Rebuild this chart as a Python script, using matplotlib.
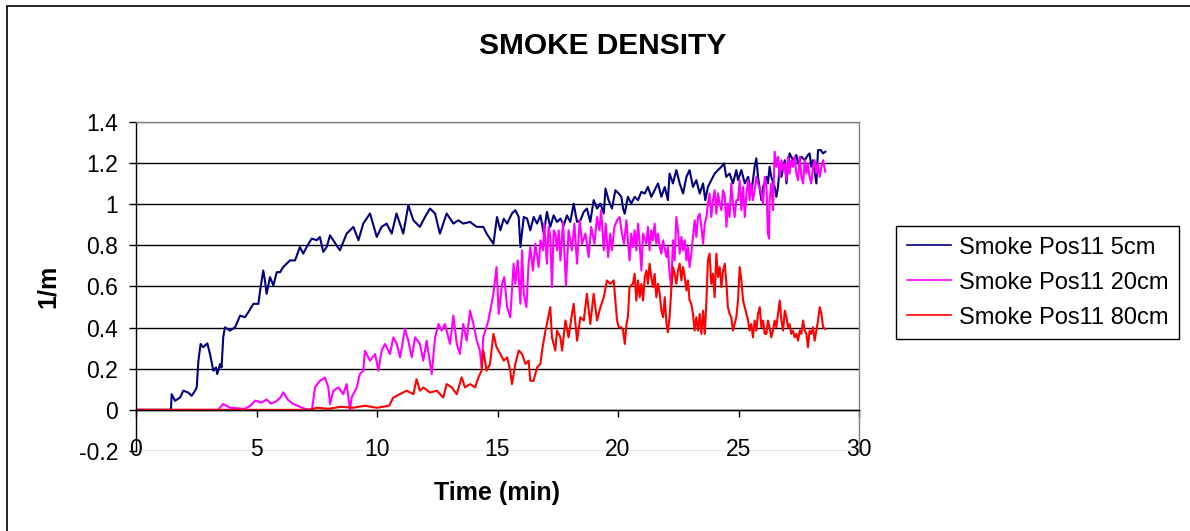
import numpy as np
import matplotlib
matplotlib.use('Agg')
import matplotlib.pyplot as plt
from matplotlib.patches import Rectangle

# ----------------------------- Data -----------------------------
T_5CM = [0.0, 1.45, 1.48, 1.62, 1.83, 1.96, 2.17, 2.31, 2.45, 2.52, 2.59, 2.68, 2.79, 2.96,
         3.07, 3.21, 3.32, 3.37, 3.49, 3.55, 3.62, 3.69, 3.90, 4.11, 4.32, 4.52, 4.66, 4.87,
         5.08, 5.15, 5.28, 5.35, 5.42, 5.56, 5.70, 5.84, 5.98, 6.11, 6.39, 6.60, 6.80, 6.94,
         7.08, 7.29, 7.50, 7.63, 7.77, 7.91, 8.05, 8.46, 8.74, 9.02, 9.23, 9.43, 9.71, 9.99,
         10.19, 10.40, 10.61, 10.81, 11.09, 11.30, 11.51, 11.78, 11.99, 12.20, 12.41, 12.61,
         12.89, 13.17, 13.38, 13.58, 13.86, 14.14, 14.41, 14.55, 14.83,
         14.98, 15.12, 15.26, 15.40, 15.60, 15.74, 15.88, 15.95, 16.09, 16.23, 16.36, 16.50,
         16.64, 16.78, 16.92, 17.05, 17.19, 17.33, 17.47, 17.61, 17.75, 17.88, 18.02, 18.16,
         18.30, 18.44, 18.58, 18.71, 18.85, 18.99, 19.13, 19.27, 19.41, 19.48, 19.61, 19.75,
         19.89, 20.03, 20.14, 20.21, 20.28, 20.41, 20.55, 20.69, 20.83, 20.97, 21.11, 21.24,
         21.38, 21.52, 21.66, 21.80, 21.94, 22.07, 22.14, 22.28, 22.42, 22.56, 22.70, 22.84,
         22.97, 23.11, 23.25, 23.39, 23.53, 23.62, 23.73, 23.87, 24.01, 24.15, 24.29, 24.40,
         24.49, 24.63, 24.77, 24.91, 24.98, 25.12, 25.26, 25.40, 25.53, 25.67, 25.74, 25.81,
         25.95, 26.02, 26.16, 26.22, 26.29, 26.36, 26.50, 26.57, 26.64, 26.71, 26.78, 26.92,
         26.99, 27.05, 27.12, 27.26, 27.40, 27.47, 27.61, 27.75, 27.88, 27.95, 28.02, 28.09,
         28.23, 28.30, 28.41, 28.51, 28.60]
V_5CM = [0.0, 0.0, 0.076, 0.044, 0.060, 0.093, 0.084, 0.068, 0.093, 0.109, 0.239, 0.320, 0.304,
         0.323, 0.271, 0.190, 0.206, 0.174, 0.223, 0.206, 0.353, 0.401, 0.385, 0.401, 0.458,
         0.450, 0.474, 0.515, 0.515, 0.580, 0.677, 0.629, 0.564, 0.645, 0.604, 0.669, 0.669,
         0.694, 0.726, 0.726, 0.791, 0.759, 0.791, 0.832, 0.824, 0.840, 0.767, 0.791, 0.848,
         0.775, 0.856, 0.889, 0.824, 0.905, 0.954, 0.840, 0.889, 0.905, 0.856, 0.954, 0.856,
         0.994, 0.921, 0.889, 0.937, 0.978, 0.954, 0.856, 0.954, 0.905, 0.921, 0.905, 0.913,
         0.889, 0.889, 0.856, 0.807,
         0.937, 0.872, 0.929, 0.905, 0.954, 0.970, 0.937, 0.791, 0.937, 0.929, 0.872, 0.937,
         0.905, 0.945, 0.856, 0.962, 0.889, 0.945, 0.913, 0.929, 0.897, 0.945, 0.913, 1.002,
         0.913, 0.921, 0.962, 0.978, 0.913, 1.019, 0.978, 1.002, 0.954, 1.075, 1.019, 0.978,
         1.067, 1.051, 1.035, 0.978, 0.953, 1.035, 1.002, 1.035, 1.019, 1.059, 1.051, 1.083,
         1.035, 1.067, 1.100, 1.035, 1.083, 1.019, 1.148, 1.100, 1.165, 1.100, 1.051, 1.132,
         1.165, 1.083, 1.116, 1.051, 1.100, 1.019, 1.083, 1.116, 1.148, 1.165, 1.181, 1.197,
         1.132, 1.148, 1.100, 1.165, 1.116, 1.165, 1.100, 1.132, 1.051, 1.181, 1.222, 1.132,
         1.019, 1.083, 1.132, 1.100, 1.181, 1.132, 1.083, 1.035, 1.083, 1.181, 1.132, 1.213,
         1.100, 1.181, 1.246, 1.213, 1.238, 1.197, 1.230, 1.213, 1.238, 1.246, 1.181, 1.213,
         1.100, 1.262, 1.262, 1.246, 1.254]

T_20CM = [0.0, 3.40, 3.62, 3.90, 4.50, 4.75, 4.95, 5.20, 5.42, 5.60, 5.80, 6.00, 6.11, 6.30,
          6.50, 6.70, 7.00, 7.30, 7.43, 7.63, 7.84, 7.98, 8.05, 8.19, 8.40, 8.60, 8.74, 8.88,
          8.95, 9.16, 9.29, 9.43, 9.50, 9.71, 9.92, 10.06, 10.19, 10.33, 10.54, 10.68, 10.82,
          10.96, 11.16, 11.30, 11.44, 11.58, 11.78, 11.92, 12.06, 12.27, 12.41, 12.55, 12.68,
          12.82, 13.03, 13.17, 13.31, 13.44, 13.58, 13.72, 13.86, 14.00, 14.14, 14.27, 14.34,
          14.41, 14.62, 14.83, 14.96,
          15.05, 15.19, 15.28, 15.40, 15.53, 15.67, 15.74, 15.84, 15.95, 16.02, 16.09, 16.20,
          16.29, 16.36, 16.47, 16.57, 16.71, 16.78, 16.89, 16.94, 17.05, 17.12, 17.19, 17.26,
          17.33, 17.40, 17.47, 17.54, 17.61, 17.72, 17.84, 17.95, 18.09, 18.19, 18.30, 18.41,
          18.51, 18.65, 18.78, 18.89, 19.02, 19.13, 19.23, 19.30, 19.41, 19.49, 19.59, 19.68,
          19.75, 19.85, 19.96, 20.07, 20.14, 20.25, 20.35, 20.41, 20.48, 20.55, 20.62, 20.69,
          20.76, 20.83, 20.90, 20.97, 21.04, 21.18, 21.24, 21.31, 21.38, 21.45, 21.52, 21.59,
          21.66, 21.73, 21.80, 21.87, 22.01, 22.07, 22.14, 22.21, 22.28, 22.35, 22.42, 22.49,
          22.56, 22.63, 22.70, 22.77, 22.84, 22.90, 22.97, 23.04, 23.11, 23.18, 23.25, 23.32,
          23.39, 23.46, 23.53, 23.60, 23.67, 23.73, 23.80, 23.87, 23.94, 24.01, 24.08, 24.15,
          24.22, 24.29, 24.36, 24.43, 24.50, 24.56, 24.63, 24.70, 24.77, 24.84, 24.91, 24.98,
          25.05, 25.12, 25.19, 25.26, 25.33, 25.40, 25.46, 25.53, 25.60, 25.67, 25.74, 25.81,
          25.95, 26.02, 26.09, 26.16, 26.22, 26.27, 26.29, 26.36, 26.43, 26.50, 26.57, 26.64,
          26.71, 26.78, 26.85, 26.92, 26.99, 27.05, 27.12, 27.19, 27.26, 27.33, 27.40, 27.47,
          27.54, 27.61, 27.68, 27.75, 27.82, 27.88, 27.95, 28.02, 28.09, 28.16, 28.23, 28.30,
          28.37, 28.44, 28.51, 28.60]
V_20CM = [0.0, 0.0, 0.028, 0.010, 0.005, 0.020, 0.045, 0.035, 0.050, 0.030, 0.040, 0.060,
          0.085, 0.050, 0.030, 0.020, 0.005, 0.0, 0.110, 0.141, 0.157, 0.109, 0.028, 0.093,
          0.109, 0.076, 0.125, 0.0, 0.060, 0.109, 0.174, 0.190, 0.287, 0.239, 0.271, 0.190,
          0.287, 0.320, 0.271, 0.352, 0.320, 0.255, 0.393, 0.336, 0.255, 0.352, 0.320, 0.239,
          0.336, 0.174, 0.352, 0.417, 0.385, 0.417, 0.320, 0.458, 0.320, 0.271, 0.417, 0.336,
          0.482, 0.417, 0.336, 0.287, 0.206, 0.352, 0.433, 0.563, 0.694,
          0.466, 0.612, 0.645, 0.499, 0.450, 0.710, 0.612, 0.726, 0.515, 0.775, 0.564, 0.499,
          0.710, 0.791, 0.677, 0.807, 0.694, 0.824, 0.775, 0.905, 0.710, 0.889, 0.840, 0.596,
          0.872, 0.856, 0.775, 0.872, 0.726, 0.913, 0.604, 0.872, 0.775, 0.905, 0.710, 0.921,
          0.807, 0.856, 0.742, 0.889, 0.807, 0.937, 0.872, 0.970, 0.775, 0.905, 0.742, 0.856,
          0.775, 0.889, 0.921, 0.937, 0.872, 0.807, 0.921, 0.824, 0.726, 0.856, 0.791, 0.872,
          0.775, 0.905, 0.807, 0.677, 0.856, 0.807, 0.889, 0.775, 0.872, 0.824, 0.905, 0.807,
          0.856, 0.791, 0.759, 0.824, 0.742, 0.791, 0.661, 0.596, 0.824, 0.726, 0.937, 0.872,
          0.759, 0.840, 0.775, 0.824, 0.726, 0.791, 0.694, 0.759, 0.840, 0.921, 0.840, 0.937,
          0.953, 0.889, 0.807, 0.905, 0.937, 1.002, 1.051, 0.937, 1.019, 1.067, 0.953, 1.051,
          1.002, 0.970, 1.067, 1.035, 0.889, 1.002, 0.937, 1.100, 1.002, 0.937, 1.019, 1.019,
          1.116, 0.970, 1.084, 0.937, 1.051, 1.116, 1.019, 1.100, 1.019, 1.067, 1.132, 1.100,
          1.051, 1.002, 1.132, 1.084, 0.856, 0.832, 1.019, 1.100, 0.970, 1.254, 1.181, 1.230,
          1.132, 1.213, 1.165, 1.197, 1.116, 1.230, 1.148, 1.213, 1.181, 1.230, 1.148, 1.116,
          1.230, 1.132, 1.100, 1.213, 1.148, 1.197, 1.132, 1.100, 1.181, 1.213, 1.148, 1.197,
          1.132, 1.181, 1.213, 1.157]

T_80CM = [0.0, 7.20, 7.50, 8.00, 8.50, 9.00, 9.50, 10.00, 10.50, 10.68, 10.95, 11.23, 11.51,
          11.64, 11.78, 11.92, 12.20, 12.48, 12.75, 12.89, 13.10, 13.31, 13.51, 13.65, 13.86,
          14.07, 14.21, 14.34, 14.41, 14.55, 14.69, 14.83, 14.96,
          15.12, 15.26, 15.40, 15.53, 15.60, 15.74, 15.88, 16.02, 16.16, 16.29, 16.36, 16.50,
          16.64, 16.78, 16.85, 16.99, 17.05, 17.19, 17.26, 17.40, 17.47, 17.61, 17.68, 17.82,
          17.95, 18.09, 18.16, 18.30, 18.44, 18.58, 18.71, 18.85, 18.99, 19.13, 19.27, 19.41,
          19.54, 19.68, 19.82, 19.89, 19.96, 20.03, 20.14, 20.21, 20.28, 20.35, 20.41, 20.48,
          20.62, 20.69, 20.76, 20.83, 20.90, 20.97, 21.04, 21.11, 21.18, 21.24, 21.31, 21.38,
          21.45, 21.52, 21.59, 21.66, 21.73, 21.80, 21.87, 21.94, 22.01, 22.07, 22.14, 22.21,
          22.28, 22.35, 22.42, 22.49, 22.56, 22.63, 22.70, 22.77, 22.84, 22.90, 22.97, 23.04,
          23.11, 23.18, 23.25, 23.32, 23.39, 23.46, 23.53, 23.60, 23.67, 23.73, 23.80, 23.87,
          23.94, 24.01, 24.08, 24.15, 24.22, 24.29, 24.36, 24.43, 24.50, 24.56, 24.63, 24.70,
          24.77, 24.84, 24.91, 24.98, 25.05, 25.12, 25.19, 25.26, 25.33, 25.40, 25.46, 25.53,
          25.60, 25.67, 25.74, 25.81, 25.88, 25.95, 26.02, 26.09, 26.16, 26.22, 26.29, 26.36,
          26.43, 26.50, 26.57, 26.64, 26.71, 26.78, 26.85, 26.92, 26.99, 27.05, 27.12, 27.19,
          27.26, 27.33, 27.40, 27.47, 27.54, 27.61, 27.68, 27.75, 27.82, 27.88, 27.95, 28.02,
          28.09, 28.16, 28.23, 28.30, 28.37, 28.44, 28.51, 28.60]
V_80CM = [0.0, 0.0, 0.010, 0.005, 0.015, 0.010, 0.020, 0.010, 0.020, 0.060, 0.076, 0.093,
          0.076, 0.149, 0.093, 0.109, 0.084, 0.093, 0.060, 0.125, 0.109, 0.076, 0.158, 0.109,
          0.125, 0.109, 0.158, 0.190, 0.288, 0.190, 0.223, 0.369, 0.304,
          0.271, 0.239, 0.255, 0.190, 0.125, 0.223, 0.288, 0.271, 0.223, 0.239, 0.141, 0.141,
          0.206, 0.223, 0.288, 0.385, 0.417, 0.499, 0.352, 0.288, 0.385, 0.352, 0.288, 0.434,
          0.352, 0.466, 0.515, 0.336, 0.450, 0.434, 0.564, 0.417, 0.564, 0.434, 0.499, 0.547,
          0.629, 0.612, 0.629, 0.531, 0.434, 0.401, 0.401, 0.385, 0.320, 0.417, 0.450, 0.596,
          0.612, 0.661, 0.531, 0.629, 0.547, 0.612, 0.531, 0.645, 0.677, 0.612, 0.710, 0.645,
          0.596, 0.661, 0.547, 0.612, 0.564, 0.482, 0.450, 0.547, 0.417, 0.377, 0.450, 0.580,
          0.694, 0.661, 0.612, 0.677, 0.710, 0.629, 0.694, 0.645, 0.580, 0.629, 0.531, 0.515,
          0.466, 0.385, 0.450, 0.385, 0.466, 0.369, 0.482, 0.369, 0.531, 0.726, 0.759, 0.612,
          0.661, 0.547, 0.759, 0.645, 0.694, 0.596, 0.677, 0.710, 0.612, 0.499, 0.466, 0.450,
          0.385, 0.417, 0.450, 0.531, 0.694, 0.629, 0.531, 0.499, 0.466, 0.434, 0.385, 0.417,
          0.352, 0.434, 0.385, 0.466, 0.499, 0.401, 0.434, 0.369, 0.369, 0.434, 0.401, 0.352,
          0.385, 0.434, 0.401, 0.466, 0.531, 0.434, 0.385, 0.482, 0.450, 0.401, 0.417, 0.369,
          0.385, 0.352, 0.369, 0.336, 0.385, 0.369, 0.434, 0.385, 0.369, 0.304, 0.385, 0.369,
          0.401, 0.336, 0.385, 0.434, 0.499, 0.466, 0.401, 0.393]

SERIES_LABELS = ['Smoke Pos11 5cm', 'Smoke Pos11 20cm', 'Smoke Pos11 80cm']
SERIES_COLORS = ['#000080', '#FF00FF', '#FF0000']

X_TICKS = [0, 5, 10, 15, 20, 25, 30]
Y_TICKS = [-0.2, 0, 0.2, 0.4, 0.6, 0.8, 1.0, 1.2, 1.4]
Y_TICK_LABELS = ['-0.2', '0', '0.2', '0.4', '0.6', '0.8', '1', '1.2', '1.4']

# ----------------------------- Figure -----------------------------
W, H = 1190, 531
plt.rcParams['font.family'] = ['Liberation Sans', 'DejaVu Sans']

fig = plt.figure(figsize=(W / 100, H / 100), dpi=100)
ax = fig.add_axes([136 / W, 1 - 451 / H, 723 / W, 329.3 / H])

series = [(T_5CM, V_5CM), (T_20CM, V_20CM), (T_80CM, V_80CM)]
for (t, v), lab, col in zip(series, SERIES_LABELS, SERIES_COLORS):
    ax.plot(t, v, color=col, lw=1.5, label=lab)

ax.set_xlim(0, 30)
ax.set_ylim(-0.2, 1.4)
ax.set_xticks(X_TICKS)
ax.set_xticklabels([str(x) for x in X_TICKS])
ax.set_yticks(Y_TICKS)
ax.set_yticklabels(Y_TICK_LABELS)

# horizontal gridlines, plot-area border in grey
ax.yaxis.grid(True, color='black', lw=1)
ax.set_axisbelow(True)
glines = ax.get_ygridlines()
glines[0].set_color('#808080')
glines[-1].set_color('#808080')

ax.spines['bottom'].set_position(('data', 0))
ax.spines['bottom'].set_color('black')
ax.spines['left'].set_color('black')
ax.spines['top'].set_color('#808080')
ax.spines['right'].set_color('#808080')
for s in ax.spines.values():
    s.set_linewidth(1)

ax.tick_params(axis='both', direction='out', length=5, width=1, labelsize=16.5, colors='black')
ax.tick_params(axis='x', pad=15)
ax.tick_params(axis='y', pad=8)

# titles / labels
fig.text(603 / W, 1 - 54.5 / H, 'SMOKE DENSITY', ha='center', va='baseline',
         fontsize=21.5, fontweight='bold')
fig.text(497.5 / W, 1 - 500 / H, 'Time (min)', ha='center', va='baseline',
         fontsize=18, fontweight='bold')
fig.text(48 / W, 1 - 286 / H, '1/m', ha='center', va='center', rotation=90,
         fontsize=18, fontweight='bold')

leg = ax.legend(loc='upper left', bbox_to_anchor=(896 / W, 1 - 226 / H),
                bbox_transform=fig.transFigure, fontsize=17, frameon=True, fancybox=False,
                edgecolor='black', framealpha=1, handlelength=1.9, handletextpad=0.3,
                borderpad=0.45, labelspacing=0.55, borderaxespad=0)
leg.get_frame().set_linewidth(1)
for h in leg.get_lines():
    h.set_linewidth(1.2)

# outer chart border (left and top visible)
fig.patches.append(Rectangle((7 / W, -0.1), 1.2, 1.1 - 6 / H, transform=fig.transFigure,
                             fill=False, ec='black', lw=1.2))

fig.savefig('out.png', dpi=100)
